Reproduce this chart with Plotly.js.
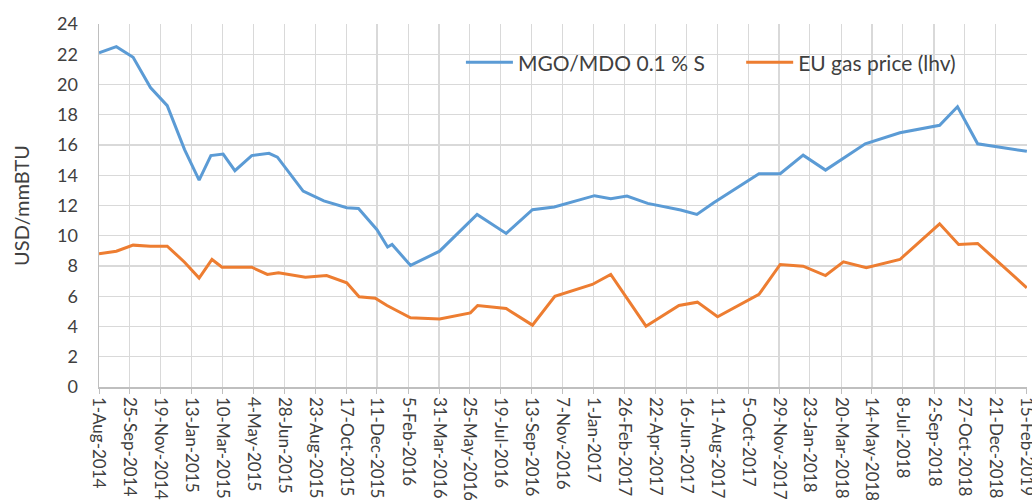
<!DOCTYPE html>
<html>
<head>
<meta charset="utf-8">
<script src="https://cdn.plot.ly/plotly-3.0.1.min.js"></script>
<style>html,body{margin:0;padding:0;background:#fff;}#chart{width:1032px;height:500px;}</style>
</head>
<body>
<div id="chart"></div>
<script>
const mgoDates = ['2014-08-01','2014-09-01','2014-10-01','2014-11-01','2014-12-01','2015-01-01','2015-01-27','2015-02-17','2015-03-11','2015-04-01','2015-05-01','2015-06-01','2015-06-16','2015-08-01','2015-09-07','2015-10-18','2015-11-08','2015-12-11','2015-12-30','2016-01-07','2016-02-09','2016-04-01','2016-06-07','2016-07-29','2016-09-14','2016-10-23','2017-01-03','2017-02-01','2017-03-02','2017-04-08','2017-06-06','2017-07-05','2017-08-04','2017-10-24','2017-12-01','2018-01-11','2018-02-20','2018-05-02','2018-07-03','2018-09-12','2018-10-14','2018-11-19','2019-02-15'];
const mgoValues = [22.1,22.5,21.8,19.8,18.6,15.7,13.68,15.3,15.4,14.3,15.3,15.45,15.2,12.95,12.3,11.85,11.8,10.4,9.25,9.42,8.04,8.98,11.41,10.15,11.72,11.9,12.65,12.45,12.62,12.14,11.7,11.41,12.18,14.1,14.1,15.33,14.34,16.08,16.81,17.3,18.53,16.08,15.58];

const gasDates = ['2014-08-01','2014-09-01','2014-10-01','2014-11-01','2014-12-01','2015-01-01','2015-01-27','2015-02-19','2015-03-09','2015-05-01','2015-05-29','2015-06-18','2015-08-05','2015-09-12','2015-10-18','2015-11-09','2015-12-08','2015-12-29','2016-02-09','2016-04-01','2016-05-26','2016-06-08','2016-07-29','2016-09-14','2016-10-24','2016-12-30','2017-02-01','2017-04-05','2017-06-03','2017-07-06','2017-08-11','2017-10-24','2017-12-01','2018-01-11','2018-02-20','2018-03-24','2018-05-04','2018-07-03','2018-09-12','2018-10-16','2018-11-19','2019-02-15'];
const gasValues = [8.81,8.98,9.38,9.31,9.31,8.25,7.2,8.43,7.92,7.92,7.44,7.55,7.26,7.37,6.89,5.96,5.87,5.39,4.58,4.5,4.9,5.39,5.19,4.09,6.0,6.78,7.44,4.02,5.39,5.61,4.64,6.12,8.1,7.99,7.37,8.28,7.88,8.43,10.79,9.42,9.49,6.56];

const tickDates = ['2014-08-01','2014-09-25','2014-11-19','2015-01-13','2015-03-10','2015-05-04','2015-06-28','2015-08-23','2015-10-17','2015-12-11','2016-02-05','2016-03-31','2016-05-25','2016-07-19','2016-09-13','2016-11-07','2017-01-01','2017-02-26','2017-04-22','2017-06-16','2017-08-11','2017-10-05','2017-11-29','2018-01-23','2018-03-20','2018-05-14','2018-07-08','2018-09-02','2018-10-27','2018-12-21','2019-02-15'];
const tickLabels = ['1-Aug-2014','25-Sep-2014','19-Nov-2014','13-Jan-2015','10-Mar-2015','4-May-2015','28-Jun-2015','23-Aug-2015','17-Oct-2015','11-Dec-2015','5-Feb-2016','31-Mar-2016','25-May-2016','19-Jul-2016','13-Sep-2016','7-Nov-2016','1-Jan-2017','26-Feb-2017','22-Apr-2017','16-Jun-2017','11-Aug-2017','5-Oct-2017','29-Nov-2017','23-Jan-2018','20-Mar-2018','14-May-2018','8-Jul-2018','2-Sep-2018','27-Oct-2018','21-Dec-2018','15-Feb-2019'];

const seriesNames = ['MGO/MDO 0.1 % S', 'EU gas price (lhv)'];
const yTicks = [0,2,4,6,8,10,12,14,16,18,20,22,24];

const traces = [
  {x: mgoDates, y: mgoValues, name: seriesNames[0], type: 'scatter', mode: 'lines',
   line: {color: '#5B9BD5', width: 3}, legend: 'legend'},
  {x: gasDates, y: gasValues, name: seriesNames[1], type: 'scatter', mode: 'lines',
   line: {color: '#ED7D31', width: 3}, legend: 'legend2'}
];

function legendAt(x) {
  return {orientation: 'h', x: x, y: 0.95, xanchor: 'left', yanchor: 'top',
    bgcolor: 'rgba(0,0,0,0)', itemwidth: 47,
    font: {family: 'Lato, "Open Sans", sans-serif', size: 21, color: '#404040'}};
}

const layout = {
  width: 1032, height: 500,
  margin: {l: 99, r: 5, t: 24, b: 112.5},
  paper_bgcolor: '#ffffff', plot_bgcolor: '#ffffff',
  font: {family: 'Lato, "Open Sans", sans-serif', color: '#595959', size: 15},
  showlegend: true,
  legend: legendAt(0.39),
  legend2: legendAt(0.692),
  xaxis: {
    type: 'date', range: ['2014-08-01', '2019-02-15 06:00'],
    tickvals: tickDates, ticktext: tickLabels, tickangle: 90,
    ticklabeloverflow: 'allow',
    showgrid: true, gridcolor: '#d9d9d9', gridwidth: 1.2,
    showline: true, linecolor: '#bfbfbf', linewidth: 1.5,
    ticks: 'outside', ticklen: 5, tickcolor: '#bfbfbf',
    tickfont: {size: 17, color: '#404040'}, zeroline: false, fixedrange: true
  },
  yaxis: {
    range: [0, 24], tickvals: yTicks, ticktext: yTicks.map(String),
    showgrid: true, gridcolor: '#d9d9d9', gridwidth: 1.2,
    showline: true, linecolor: '#bfbfbf', linewidth: 1.5,
    ticks: '', tickfont: {size: 18, color: '#404040'}, ticklabelstandoff: 16,
    zeroline: false,
    title: {text: 'USD/mmBTU', font: {size: 20, color: '#404040'}, standoff: 22}
  }
};

Plotly.newPlot('chart', traces, layout, {displayModeBar: false, staticPlot: true});
</script>
</body>
</html>
